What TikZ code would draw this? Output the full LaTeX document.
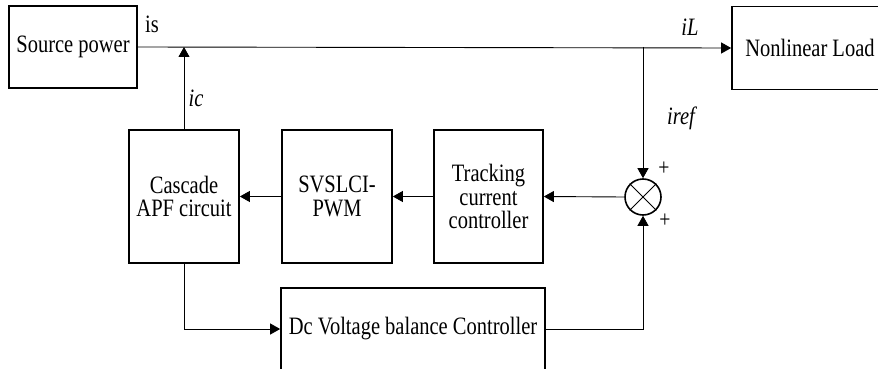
\documentclass[tikz,border=0pt]{standalone}
\usepackage{fontspec}
\setmainfont[FakeStretch=0.82]{Liberation Serif}
\usetikzlibrary{arrows.meta, positioning, calc}

\begin{document}
\begin{tikzpicture}[
    x=1pt, y=-1pt,
    block/.style={rectangle, draw=black, line width=1.7pt, fill=white, align=center, font=\fontsize{25}{23.5}\selectfont, inner sep=0pt},
    label/.style={font=\fontsize{25}{23}\selectfont\itshape, inner sep=0pt},
    sign/.style={font=\fontsize{24}{24}\selectfont, inner sep=0pt},
    arrow/.style={-{Triangle[length=10pt, width=11pt]}, line width=0.9pt},
    wire/.style={line width=0.9pt}
]
    \useasboundingbox (0,0) rectangle (878,369);
    \clip (0,0) rectangle (878,369);

    % Source and load
    \node[block, minimum width=128pt, minimum height=82pt] (src) at (73,47) {Source power};
    \node[block, minimum width=156pt, minimum height=83pt] (load) at (810,48) {Nonlinear Load};

    % Control blocks
    \node[block, minimum width=110pt, minimum height=133pt] (casc) at (184,196.5) {Cascade\\APF circuit};
    \node[block, minimum width=110pt, minimum height=133pt] (svs) at (337,196.5) {SVSLCI-\\PWM};
    \node[block, minimum width=109pt, minimum height=133pt] (trk) at (488.5,196.5) {Tracking\\current\\controller};
    \node[block, minimum width=264pt, minimum height=82pt] (dcb) at (413,329) {Dc Voltage balance Controller};

    % Summing junction
    \node[circle, draw=black, line width=1.6pt, minimum size=36pt, inner sep=0pt] (sum) at (643,197) {};
    \draw[wire] (sum.north west) -- (sum.south east);
    \draw[wire] (sum.north east) -- (sum.south west);
    \coordinate (jn) at (643,47);

    % Labels
    \node[font=\fontsize{25}{23}\selectfont, inner sep=0pt] (is) at (152,24) {is};
    \node[label] (il) at (690,27) {iL};
    \node[label] (ic) at (196,98) {ic};
    \node[label] (iref) at (681,118) {iref};
    \node[sign] (p1) at (664,169) {+};
    \node[sign] (p2) at (665,221) {+};

    % Power line
    \draw[arrow] (src.east) -- (load.west);
    \draw[arrow] (casc.north) -- (casc.north |- src.east);
    \draw[arrow] (jn) -- (sum.north);

    % Control chain
    \draw[arrow] (sum.west) -- (trk.east);
    \draw[arrow] (trk.west) -- (svs.east);
    \draw[arrow] (svs.west) -- (casc.east);
    \draw[arrow] (casc.south) |- (dcb.west);
    \draw[arrow] (dcb.east) -| (sum.south);

\end{tikzpicture}
\end{document}
